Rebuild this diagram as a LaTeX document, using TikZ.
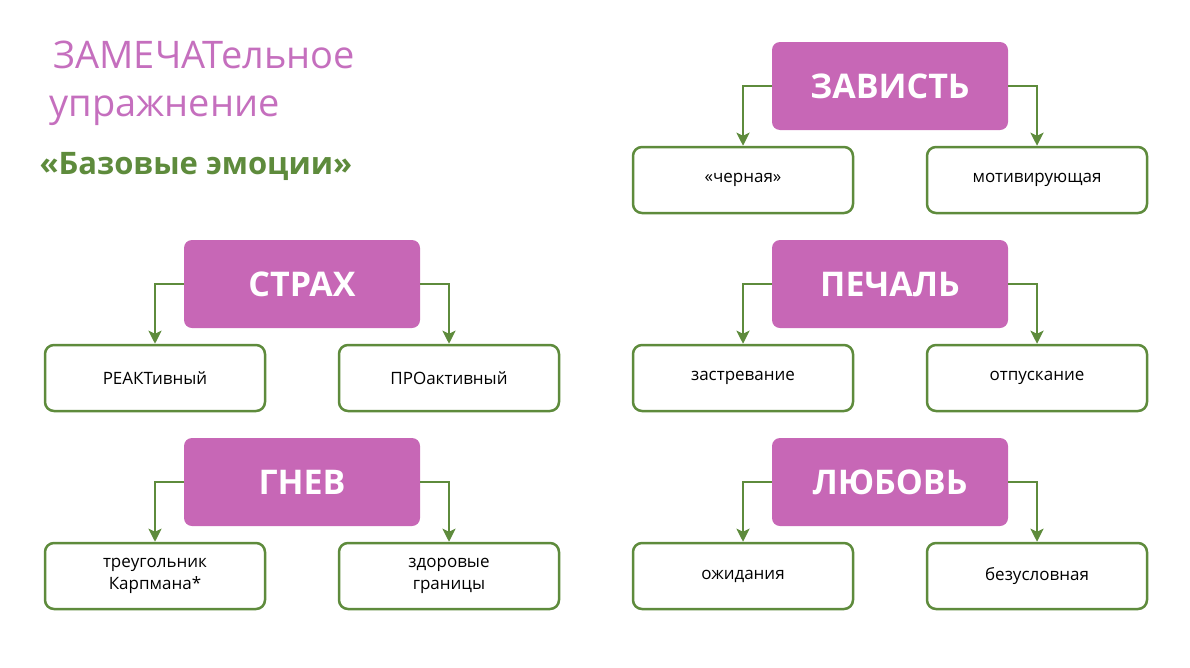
\documentclass[tikz,border=0pt]{standalone}
\usepackage{fontspec}
\setmainfont{Open Sans}
\usetikzlibrary{arrows.meta}
\definecolor{pk}{HTML}{C767B6}
\definecolor{gr}{HTML}{5E8B3C}
\definecolor{tp}{HTML}{C56FBE}
\begin{document}
\begin{tikzpicture}[x=1pt,y=-1pt,
 head/.style={fill=pk,rounded corners=8pt,minimum width=236pt,minimum height=88pt,text=white,font=\fontsize{34}{40}\selectfont\bfseries,inner sep=0},
 leaf/.style={draw=gr,line width=2.5pt,fill=white,rounded corners=9pt,minimum width=220pt,minimum height=66pt,font=\fontsize{17}{22}\selectfont,align=center,inner sep=0},
 con/.style={draw=gr,line width=2.5pt,-{Stealth[length=13pt,width=13pt,inset=3pt]}}]
\path[use as bounding box] (0,0) rectangle (1190,667);
\node[anchor=west,text=tp,font=\fontsize{38}{46}\selectfont\addfontfeature{FakeBold=0}] at (50,55) {ЗАМЕЧАТельное};
\node[anchor=west,text=tp,font=\fontsize{38}{46}\selectfont] at (46,111) {упражнение};
\node[anchor=west,text=gr,font=\fontsize{31}{38}\selectfont\bfseries] at (36,166) {«Базовые эмоции»};
\newcommand\grp[6]{%
 \node[head] (#1) at (#2,#3) {#4};
 \node[leaf] (#1l) at (#2-147,#3+94) {#5};
 \node[leaf] (#1r) at (#2+147,#3+94) {#6};
 \draw[con] (#1.west) -| (#1l.north);
 \draw[con] (#1.east) -| (#1r.north);}
\grp{a}{890}{86}{ЗАВИСТЬ}{«черная»}{мотивирующая}
\grp{b}{890}{284}{ПЕЧАЛЬ}{застревание}{отпускание}
\grp{c}{890}{482}{ЛЮБОВЬ}{ожидания}{безусловная}
\grp{d}{302}{284}{СТРАХ}{РЕАКТивный}{ПРОактивный}
\grp{e}{302}{482}{ГНЕВ}{треугольник\\Карпмана*}{здоровые\\границы}
\end{tikzpicture}
\end{document}
